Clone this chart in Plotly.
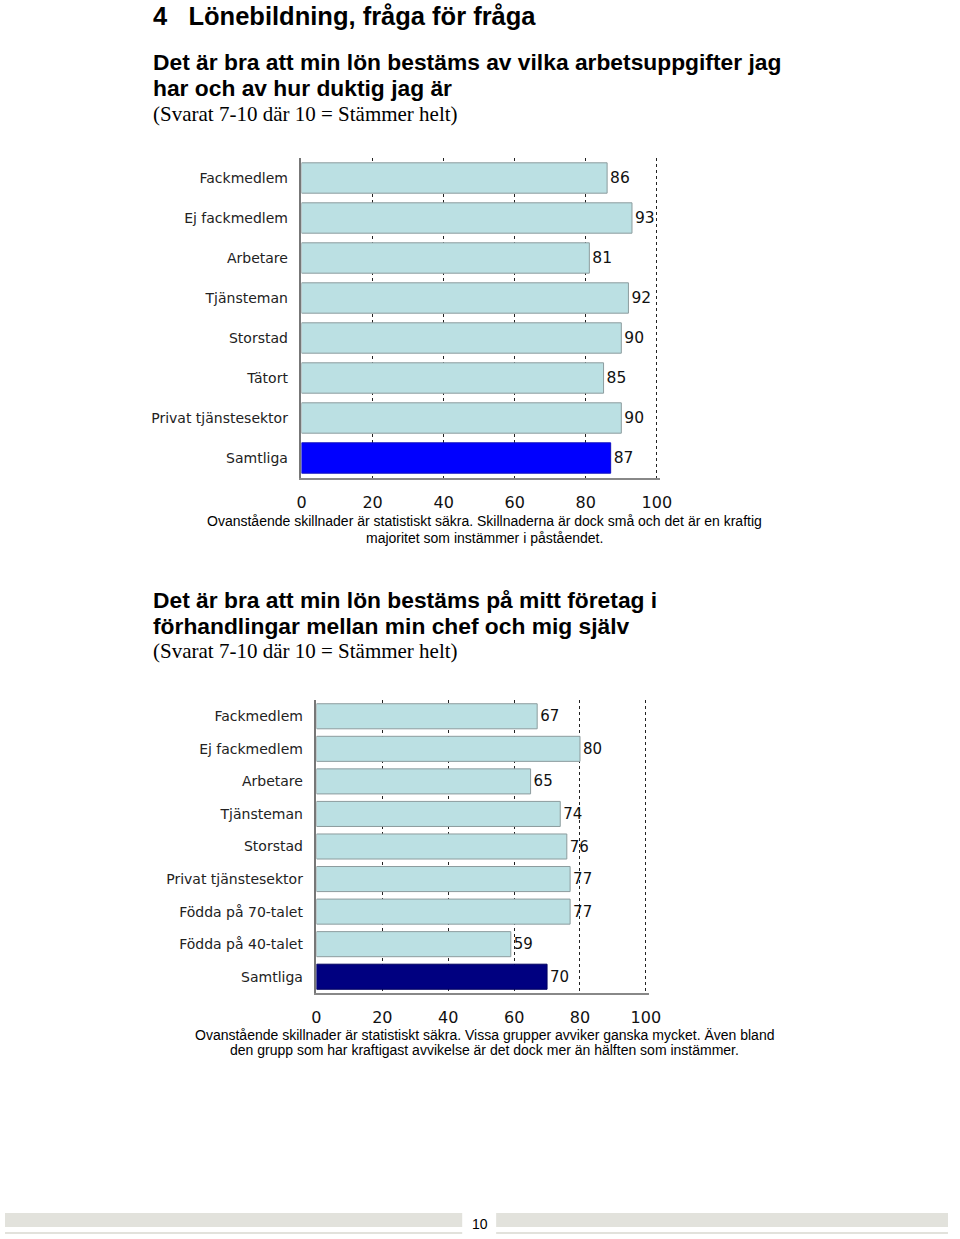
import plotly.graph_objects as go

W, H = 960, 1239

# chart 1
cats1 = ["Fackmedlem", "Ej fackmedlem", "Arbetare", "Tjänsteman", "Storstad",
         "Tätort", "Privat tjänstesektor", "Samtliga"]
vals1 = [86, 93, 81, 92, 90, 85, 90, 87]

# chart 2
cats2 = ["Fackmedlem", "Ej fackmedlem", "Arbetare", "Tjänsteman", "Storstad",
         "Privat tjänstesektor", "Födda på 70-talet", "Födda på 40-talet", "Samtliga"]
vals2 = [67, 80, 65, 74, 76, 77, 77, 59, 70]

xticks = [0, 20, 40, 60, 80, 100]

LIGHT = "#bbe0e3"
EDGE = "#8c9c9e"

# the page ends up drawn slightly narrower than the window, so map target pixels back
SX, OX = 0.984, 4


def px(x):
    return min(1.0, max(0.0, (x - OX) / SX / W))


def py(y):
    return 1 - y / H


fig = go.Figure()

fig.add_trace(go.Bar(
    x=vals1, y=cats1, orientation="h", width=0.76,
    marker_color=[LIGHT] * (len(cats1) - 1) + ["#0000ff"],
    marker_line_color=[EDGE] * (len(cats1) - 1) + ["#1010c0"],
    marker_line_width=1,
    text=vals1, textposition="outside", cliponaxis=False,
    textfont=dict(family="DejaVu Sans", size=15.5, color="#111"),
    xaxis="x", yaxis="y", hoverinfo="skip"))

fig.add_trace(go.Bar(
    x=vals2, y=cats2, orientation="h", width=0.77,
    marker_color=[LIGHT] * (len(cats2) - 1) + ["#000080"],
    marker_line_color=[EDGE] * (len(cats2) - 1) + ["#000060"],
    marker_line_width=1,
    text=vals2, textposition="outside", cliponaxis=False,
    textfont=dict(family="DejaVu Sans", size=15, color="#111"),
    xaxis="x2", yaxis="y2", hoverinfo="skip"))

xax = dict(range=[0, 101], tickvals=xticks, showgrid=True, griddash="dot",
           gridcolor="#222", gridwidth=1, zeroline=False, showline=True,
           linecolor="#888", linewidth=1.5, ticks="", ticklabelstandoff=9,
           tickfont=dict(family="DejaVu Sans", size=16, color="#111"))
yax = dict(autorange="reversed", showgrid=False, zeroline=False, showline=True,
           linecolor="#777", linewidth=1.5, ticks="", ticklabelstandoff=9,
           tickfont=dict(family="DejaVu Sans", size=14, color="#222"))

fig.update_layout(
    width=W, height=H, autosize=False, margin=dict(l=0, r=0, t=0, b=0),
    paper_bgcolor="white", plot_bgcolor="white", showlegend=False,
    xaxis=dict(xax, domain=[px(301), px(301 + 3.56 * 101)], anchor="y"),
    yaxis=dict(yax, domain=[py(478), py(158)], anchor="x"),
    xaxis2=dict(xax, domain=[px(316), px(316 + 3.30 * 101)], anchor="y2"),
    yaxis2=dict(yax, domain=[py(993), py(700)], anchor="x2"),
)


def note(text, x, y, size, family, bold=False, anchor="left", color="#000"):
    fig.add_annotation(text=f"<b>{text}</b>" if bold else text,
                       x=px(x), y=py(y), xref="paper", yref="paper",
                       xanchor=anchor, yanchor="middle", showarrow=False,
                       borderpad=0,
                       font=dict(family=family, size=size, color=color))


note("4&nbsp;&nbsp;&nbsp;Lönebildning, fråga för fråga", 151, 16, 25.5, "Liberation Sans", bold=True)
note("Det är bra att min lön bestäms av vilka arbetsuppgifter jag", 151, 62, 22.8, "Liberation Sans", bold=True)
note("har och av hur duktig jag är", 151, 88, 22.8, "Liberation Sans", bold=True)
note("(Svarat 7-10 där 10 = Stämmer helt)", 151, 114, 21, "Liberation Serif")

note("Ovanstående skillnader är statistiskt säkra. Skillnaderna är dock små och det är en kraftig",
     484, 521, 14, "Liberation Sans", anchor="center")
note("majoritet som instämmer i påståendet.", 484, 538, 14, "Liberation Sans", anchor="center")

note("Det är bra att min lön bestäms på mitt företag i", 151, 600, 22.8, "Liberation Sans", bold=True)
note("förhandlingar mellan min chef och mig själv", 151, 626, 22.8, "Liberation Sans", bold=True)
note("(Svarat 7-10 där 10 = Stämmer helt)", 151, 651, 21, "Liberation Serif")

note("Ovanstående skillnader är statistiskt säkra. Vissa grupper avviker ganska mycket. Även bland",
     484, 1035, 14, "Liberation Sans", anchor="center")
note("den grupp som har kraftigast avvikelse är det dock mer än hälften som instämmer.",
     484, 1050, 14, "Liberation Sans", anchor="center")

# page footer
for x0, x1 in [(3, 462), (496, 960)]:
    fig.add_shape(type="rect", xref="paper", yref="paper", x0=px(x0), x1=px(x1),
                  y0=py(1227), y1=py(1213), fillcolor="#e2e2dc", line_width=0, layer="below")
    fig.add_shape(type="rect", xref="paper", yref="paper", x0=px(x0), x1=px(x1),
                  y0=py(1234), y1=py(1232), fillcolor="#e2e2dc", line_width=0, layer="below")
note("10", 480, 1224, 14, "Liberation Sans", anchor="center")

fig.write_html("out.html", config={"displayModeBar": False, "responsive": False},
               post_script="document.body.style.margin='0';document.body.style.overflow='hidden';")
